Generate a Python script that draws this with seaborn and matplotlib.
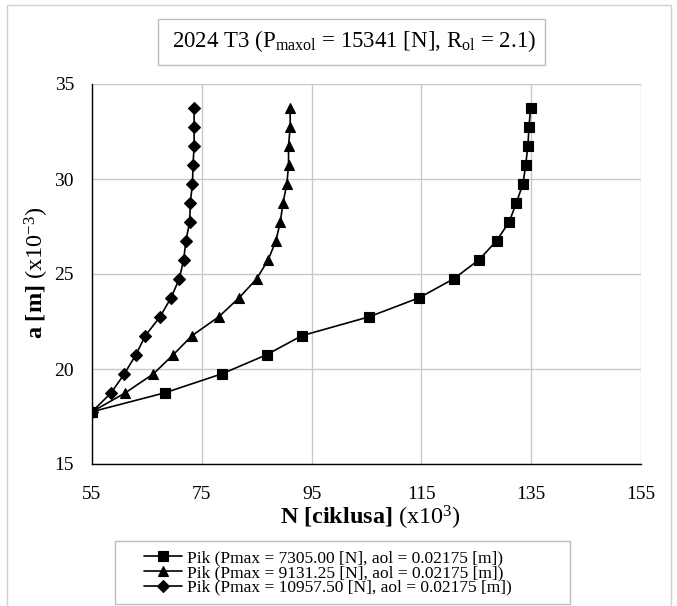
import numpy as np
import pandas as pd
import matplotlib
matplotlib.use("Agg")
import matplotlib.pyplot as plt
from matplotlib.patches import Rectangle
from matplotlib.ticker import MultipleLocator
import seaborn as sns

# crack length a (x10^-3 m), same for all three load levels
crack_a = [17.75, 18.75, 19.75, 20.75, 21.75, 22.75, 23.75, 24.75, 25.75,
           26.75, 27.75, 28.75, 29.75, 30.75, 31.75, 32.75, 33.75]

# number of cycles N (x10^3)
cycles_p1 = [55.0, 68.3, 78.7, 86.8, 93.2, 105.5, 114.6, 120.9, 125.5,
             128.7, 131.0, 132.3, 133.5, 134.0, 134.4, 134.6, 134.9]
cycles_p2 = [55.0, 61.1, 66.2, 69.8, 73.2, 78.1, 81.8, 85.0, 87.1,
             88.5, 89.3, 89.8, 90.5, 90.8, 90.8, 91.1, 91.1]
cycles_p3 = [55.0, 58.5, 60.9, 63.0, 64.7, 67.4, 69.4, 70.9, 71.7,
             72.1, 72.8, 72.9, 73.3, 73.4, 73.6, 73.6, 73.6]

series_labels = ["Pik (Pmax = 7305.00 [N], aol = 0.02175 [m])",
                 "Pik (Pmax = 9131.25 [N], aol = 0.02175 [m])",
                 "Pik (Pmax = 10957.50 [N], aol = 0.02175 [m])"]
series_markers = ["s", "^", "D"]

x_ticks = [55, 75, 95, 115, 135, 155]
y_ticks = [15, 20, 25, 30, 35]

title = r"2024 T3 (P$_{\mathrm{maxol}}$ = 15341 [N], R$_{\mathrm{ol}}$ = 2.1)"
xlabel = r"$\mathbf{N\ [ciklusa]}\ (\mathrm{x10}^{3})$"
ylabel = r"$\mathbf{a\ [m]}\ (\mathrm{x10}^{-3})$"

# ---------------------------------------------------------------------------
# style
# ---------------------------------------------------------------------------
sns.set_theme(style="white")
plt.rcParams.update({
    "font.family": ["Liberation Serif", "DejaVu Serif"],
    "mathtext.fontset": "custom",
    "mathtext.rm": "Liberation Serif",
    "mathtext.it": "Liberation Serif:italic",
    "mathtext.bf": "Liberation Serif:bold",
    "text.color": "black",
    "xtick.color": "black",
    "ytick.color": "black",
})

frames = []
for lab, vals in zip(series_labels, [cycles_p1, cycles_p2, cycles_p3]):
    frames.append(pd.DataFrame({"N": vals, "a": crack_a, "serija": lab}))
df = pd.concat(frames, ignore_index=True)

# ---------------------------------------------------------------------------
# plot
# ---------------------------------------------------------------------------
W, H = 677, 606
fig = plt.figure(figsize=(W / 100, H / 100), dpi=100)
fig.patch.set_facecolor("white")
ax = fig.add_axes([92 / W, 1 - 464 / H, 549 / W, 380 / H])

sns.lineplot(data=df, x="N", y="a", hue="serija", style="serija",
             markers=series_markers, dashes=False, palette=["black"] * 3,
             sort=False, estimator=None, linewidth=1.2, markersize=6.5,
             markeredgecolor="black", markeredgewidth=0.8, ax=ax)

handles, labels = ax.get_legend_handles_labels()
ax.get_legend().remove()

ax.set_xlim(x_ticks[0], x_ticks[-1])
ax.set_ylim(y_ticks[0], y_ticks[-1])
ax.set_xticks(x_ticks)
ax.set_yticks(y_ticks)
ax.xaxis.set_minor_locator(MultipleLocator(5))
ax.yaxis.set_minor_locator(MultipleLocator(1))
ax.set_xlabel("")
ax.set_ylabel("")

ax.grid(True, which="major", color="#c8c8c8", linewidth=1.0)
ax.set_axisbelow(True)
for side in ["top", "right"]:
    ax.spines[side].set_visible(False)
for side in ["left", "bottom"]:
    ax.spines[side].set_color("black")
    ax.spines[side].set_linewidth(1.0)

ax.tick_params(axis="both", which="both", direction="in", labelsize=14)
ax.tick_params(axis="both", which="major", length=5, width=1)
ax.tick_params(axis="both", which="minor", length=4, width=1)
ax.tick_params(axis="x", which="major", pad=16)
ax.tick_params(axis="y", which="major", pad=13)

# axis titles
fig.text(370 / W, 1 - 518 / H, xlabel, ha="center", va="center", fontsize=17.5)
fig.text(37 / W, 1 - 273 / H, ylabel, ha="center", va="center",
         fontsize=17.5, rotation=90)

# chart title in its box
fig.text(354 / W, 1 - 41 / H, title, ha="center", va="center", fontsize=16.5)
fig.patches.append(Rectangle((158 / W, 1 - 65 / H), 387 / W, 46 / H,
                             transform=fig.transFigure, fill=False,
                             edgecolor="#bdbdbd", linewidth=1.0))

# legend in its box
fig.legend(handles, labels, loc="upper left",
           bbox_to_anchor=(144 / W, 1 - 550 / H), frameon=False,
           fontsize=12.5, borderpad=0, borderaxespad=0, labelspacing=-0.08,
           handlelength=2.2, handletextpad=0.3)
fig.patches.append(Rectangle((115 / W, 1 - 604 / H), 455 / W, 63 / H,
                             transform=fig.transFigure, fill=False,
                             edgecolor="#bdbdbd", linewidth=1.0))

# outer chart border
fig.patches.append(Rectangle((7 / W, -0.05), 664 / W, 1.05 - 5 / H,
                             transform=fig.transFigure, fill=False,
                             edgecolor="#d0d0d0", linewidth=1.0))

fig.savefig("out.png", dpi=100)
